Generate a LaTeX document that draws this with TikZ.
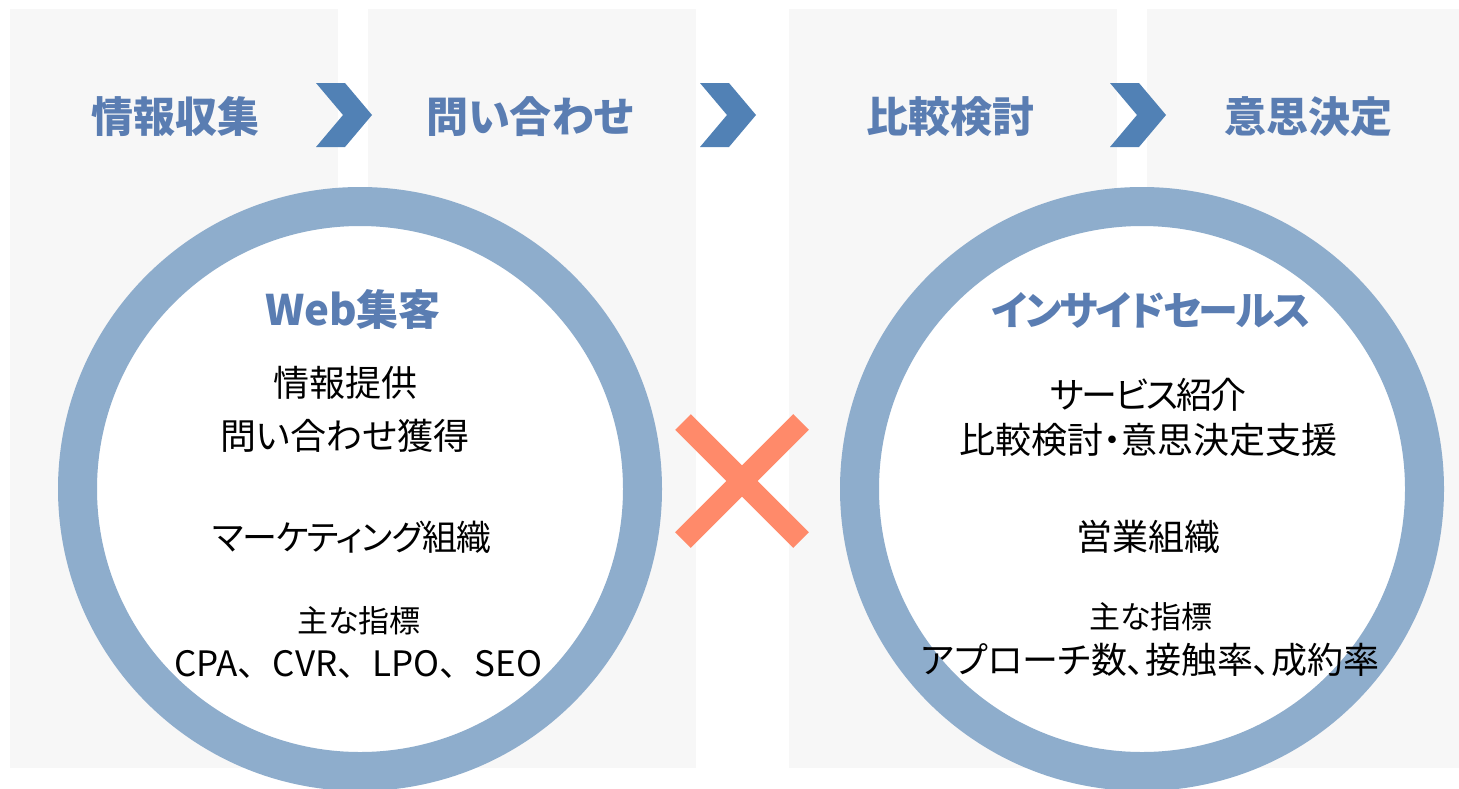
\documentclass[tikz,border=0pt]{standalone}
\usepackage{fontspec}
\setmainfont{Noto Sans CJK JP}[RawFeature=+palt]
\newfontfamily\fullwidth{Noto Sans CJK JP}
\definecolor{panelgray}{HTML}{F7F7F7}
\definecolor{chevblue}{HTML}{5181B5}
\definecolor{headblue}{HTML}{5A7DB2}
\definecolor{ringblue}{HTML}{8EADCC}
\definecolor{crossred}{HTML}{FF8A6A}
\begin{document}
\begin{tikzpicture}[x=1pt,y=-1pt,
 panel/.style={fill=panelgray, draw=none},
 chev/.style={fill=chevblue, draw=none},
 stage/.style={font=\fontsize{42}{50}\selectfont\bfseries, text=headblue, inner sep=0pt},
 ring/.style={draw=ringblue, line width=39pt, fill=white},
 ctitle/.style={font=\fontsize{42}{50}\selectfont\bfseries, text=headblue, inner sep=0pt},
 body/.style={font=\fontsize{36}{42}\selectfont, inner sep=0pt},
 smalltxt/.style={font=\fontsize{31}{36}\selectfont, inner sep=0pt},
 metric/.style={font=\fontsize{36}{42}\selectfont, inner sep=0pt},
 metricfw/.style={font=\fullwidth\fontsize{35}{42}\selectfont, inner sep=0pt},
 crossline/.style={draw=crossred, line width=22pt}]
\useasboundingbox (0,0) rectangle (1459,788);
% panels
\fill[panel] (10,9) rectangle (338,768);
\fill[panel] (368,9) rectangle (696,768);
\fill[panel] (789,9) rectangle (1117,768);
\fill[panel] (1147,9) rectangle (1459,768);
% chevrons
\foreach \x in {316,700,1110}{
 \fill[chev] (\x,83) -- (\x+29,83) -- (\x+56,115) -- (\x+29,147) -- (\x,147) -- (\x+27,115) -- cycle;
}
% stage labels
\node[stage] (s1) at (175,117) {情報収集};
\node[stage] (s2) at (530,117) {問い合わせ};
\node[stage] (s3) at (950,117) {比較検討};
\node[stage] (s4) at (1308,117) {意思決定};
% rings
\draw[ring] (360,489) circle[radius=282.5pt];
\draw[ring] (1142,489) circle[radius=282.5pt];
% left circle text
\node[ctitle] (t1) at (353,310) {Web集客};
\node[body] (l1) at (345,383) {情報提供};
\node[body] (l2) at (345,436) {問い合わせ獲得};
\node[body, font=\fontsize{35}{42}\selectfont\addfontfeatures{LetterSpace=-3}] (l3) at (352,537) {マーケティング組織};
\node[smalltxt] (l4) at (359,621) {主な指標};
\node[metricfw] (l5) at (358,664) {CPA、CVR、LPO、SEO};
% right circle text
\node[ctitle, font=\fontsize{40}{48}\selectfont\bfseries\addfontfeatures{LetterSpace=-5}] (t2) at (1151,310) {インサイドセールス};
\node[body, font=\fontsize{36}{42}\selectfont\addfontfeatures{LetterSpace=-6}] (r1) at (1148,395) {サービス紹介};
\node[body] (r2) at (1148,440) {比較検討・意思決定支援};
\node[body] (r3) at (1148,537) {営業組織};
\node[smalltxt] (r4) at (1151,617) {主な指標};
\node[metric] (r5) at (1150,660) {アプローチ数、接触率、成約率};
% cross
\coordinate (xa) at (683,422);
\coordinate (xb) at (801,540);
\coordinate (xc) at (683,540);
\coordinate (xd) at (801,422);
\draw[crossline] (xa) -- (xb);
\draw[crossline] (xc) -- (xd);
\end{tikzpicture}
\end{document}
